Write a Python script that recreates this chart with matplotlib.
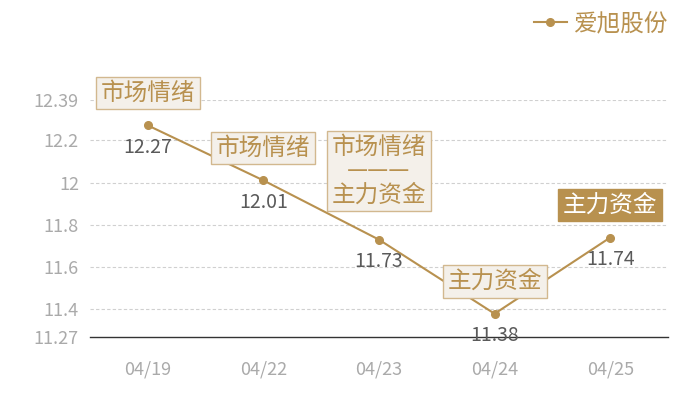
import matplotlib.pyplot as plt

plt.rcParams['font.family'] = ['Noto Sans CJK SC', 'DejaVu Sans']

dates = ["04/19", "04/22", "04/23", "04/24", "04/25"]
prices = [12.27, 12.01, 11.73, 11.38, 11.74]
tags = ["市场情绪", "市场情绪", "市场情绪\n———\n主力资金", "主力资金", "主力资金"]
highlight = [False, False, False, False, True]
yticks = [11.27, 11.4, 11.6, 11.8, 12, 12.2, 12.39]
ytick_labels = ["11.27", "11.4", "11.6", "11.8", "12", "12.2", "12.39"]
series_name = "爱旭股份"

gold = '#b8914f'
box_bg = '#f4f0ea'
box_edge = '#d2b88f'

fig = plt.figure(figsize=(7, 4), dpi=100)
ax = fig.add_axes([90/700, 1 - 337/400, 578/700, 237/400])

x = list(range(len(dates)))
ax.plot(x, prices, color=gold, lw=1.5, marker='o', ms=5.5, label=series_name)

ax.set_xlim(-0.5, len(dates) - 0.5)
ax.set_ylim(11.27, 12.39)
ax.set_xticks(x)
ax.set_xticklabels(dates)
ax.set_yticks(yticks)
ax.set_yticklabels(ytick_labels)
ax.tick_params(axis='both', length=0, colors='#aaaaaa', labelsize=13)
ax.tick_params(axis='x', pad=17)
ax.tick_params(axis='y', pad=8)
for s in ['top', 'right', 'left']:
    ax.spines[s].set_visible(False)
ax.spines['bottom'].set_color('#333333')
ax.spines['bottom'].set_linewidth(1)
for yt in yticks[1:]:
    ax.axhline(yt, color='#d0d0d0', lw=0.8, ls=(0, (3, 2)), zorder=0)

# value labels
for xi, p in zip(x, prices):
    ax.annotate(f"{p:.2f}", (xi, p), xytext=(0, -16), textcoords='offset points',
                ha='center', va='center', fontsize=14, color='#5a5a5a')

# tag boxes
for xi, p, t, h in zip(x, prices, tags, highlight):
    gap = 24 if '\n' in t else 15
    if h:
        bbox = dict(boxstyle='square,pad=0.2', fc=gold, ec=gold)
        tc = 'white'
    else:
        bbox = dict(boxstyle='square,pad=0.2', fc=box_bg, ec=box_edge, lw=1)
        tc = gold
    ax.annotate(t, (xi, p), xytext=(0, gap), textcoords='offset points',
                ha='center', va='bottom', fontsize=17, color=tc,
                linespacing=1.05, bbox=bbox, multialignment='center')

leg = ax.legend(loc='upper right', bbox_to_anchor=(678/700, 1 - 3/400),
                bbox_transform=fig.transFigure, frameon=False, fontsize=17,
                handlelength=1.4, handletextpad=0.3, borderaxespad=0)
for txt in leg.get_texts():
    txt.set_color(gold)

fig.savefig("out.png", dpi=100)
